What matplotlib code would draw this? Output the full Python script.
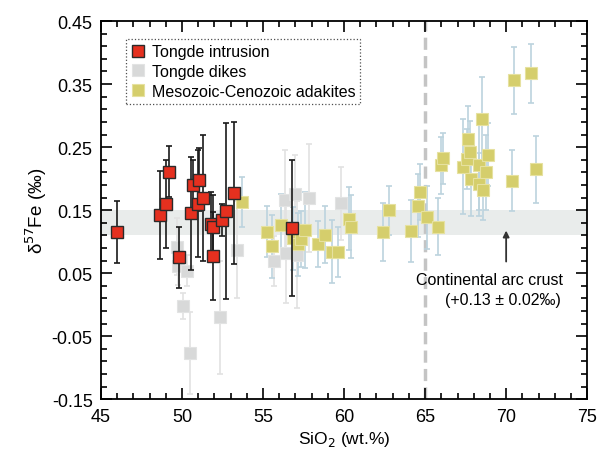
import matplotlib.pyplot as plt
from matplotlib.ticker import FixedLocator, MultipleLocator
import numpy as np

plt.rcParams['font.family'] = ['Liberation Sans', 'DejaVu Sans']

# Tongde intrusion
intr_x = [45.98, 48.64, 49.01, 49.22, 49.83, 50.56, 50.70, 51.00, 51.07, 51.27,
          51.79, 51.90, 51.90, 52.47, 52.70, 53.19, 56.79]
intr_y = [0.115, 0.142, 0.160, 0.211, 0.075, 0.145, 0.190, 0.160, 0.198, 0.170,
          0.128, 0.124, 0.077, 0.134, 0.149, 0.177, 0.122]
intr_e = [0.049, 0.070, 0.070, 0.040, 0.048, 0.090, 0.040, 0.085, 0.050, 0.100,
          0.050, 0.050, 0.070, 0.025, 0.140, 0.113, 0.108]

# Tongde dikes
dike_x = [49.71, 49.77, 50.28, 50.08, 50.49, 52.35, 53.37, 55.70, 56.36, 56.42,
          56.98, 57.08, 57.84, 59.79]
dike_y = [0.092, 0.062, 0.054, -0.002, -0.077, -0.020, 0.087, 0.069, 0.166, 0.082,
          0.175, 0.079, 0.169, 0.161]
dike_e = [0.045, 0.030, 0.025, 0.020, 0.065, 0.090, 0.077, 0.040, 0.080, 0.080,
          0.063, 0.085, 0.086, 0.058]

# Mesozoic-Cenozoic adakites
adak_x = [53.72, 55.27, 55.54, 56.11, 56.87, 57.18, 57.32, 57.59, 58.41, 58.83,
          59.24, 59.65, 60.33, 60.43, 62.43, 62.80, 64.14, 64.55, 64.69, 65.10,
          65.82, 65.99, 66.13, 67.36, 67.57, 67.67, 67.78, 67.81, 68.33, 68.35,
          68.50, 68.60, 68.77, 68.91, 70.39, 70.49, 71.52, 71.85]
adak_y = [0.163, 0.116, 0.093, 0.126, 0.105, 0.096, 0.104, 0.118, 0.096, 0.111,
          0.084, 0.084, 0.136, 0.124, 0.115, 0.150, 0.117, 0.157, 0.179, 0.139,
          0.124, 0.221, 0.232, 0.219, 0.231, 0.263, 0.242, 0.200, 0.191, 0.221,
          0.294, 0.182, 0.210, 0.238, 0.197, 0.356, 0.367, 0.215]
adak_e = [0.040, 0.040, 0.050, 0.050, 0.050, 0.050, 0.045, 0.060, 0.037, 0.045,
          0.050, 0.040, 0.050, 0.050, 0.046, 0.039, 0.049, 0.050, 0.045, 0.050,
          0.045, 0.045, 0.040, 0.075, 0.048, 0.052, 0.050, 0.060, 0.050, 0.070,
          0.067, 0.048, 0.060, 0.050, 0.048, 0.053, 0.047, 0.053]

fig = plt.figure(figsize=(6.01, 4.6), dpi=100)
ax = fig.add_axes([0.168, 0.130, 0.809, 0.822])

# continental arc crust band
ax.axhspan(0.11, 0.15, color='#e9eceb', zorder=0, lw=0)
ax.axvline(65, color='#c4c4c4', lw=2.5, dashes=(3.5, 1.8), zorder=1)

ax.errorbar(dike_x, dike_y, yerr=dike_e, fmt='none', ecolor='#e2e2e2',
            elinewidth=1.2, capsize=2, capthick=1.2, zorder=2)
ax.errorbar(adak_x, adak_y, yerr=adak_e, fmt='none', ecolor='#bcd3de',
            elinewidth=1.2, capsize=2, capthick=1.2, zorder=2)
ax.errorbar(intr_x, intr_y, yerr=intr_e, fmt='none', ecolor='#1a1a1a',
            elinewidth=1.2, capsize=2, capthick=1.2, zorder=4)

ax.plot(dike_x, dike_y, 's', ms=9, mfc='#d8d9d9', mec='#e2e3e3', mew=0.8,
        zorder=3, label='Tongde dikes')
ax.plot(adak_x, adak_y, 's', ms=9, mfc='#d5ce6c', mec='#e6e1a0', mew=0.8,
        zorder=3, label='Mesozoic-Cenozoic adakites')
ax.plot(intr_x, intr_y, 's', ms=8.5, mfc='#e5301f', mec='#2a2a2a', mew=1.0,
        zorder=5, label='Tongde intrusion')

handles, labels = ax.get_legend_handles_labels()
order = [2, 0, 1]
leg = ax.legend([handles[i] for i in order], [labels[i] for i in order],
                loc='upper left', bbox_to_anchor=(0.045, 0.96), fontsize=11.5,
                frameon=True, fancybox=False, handlelength=0.9,
                handletextpad=0.4, borderpad=0.3, labelspacing=0.3,
                markerscale=0.95, borderaxespad=0.2)
leg.get_frame().set_edgecolor('#222222')
leg.get_frame().set_linestyle(':')
leg.get_frame().set_linewidth(0.9)

ax.annotate('', xy=(70, 0.122), xytext=(70, 0.064),
            arrowprops=dict(arrowstyle='-|>', color='#333333', lw=1.3,
                            mutation_scale=9))
ax.text(69.0, 0.040, 'Continental arc crust', ha='center', va='center',
        fontsize=11.5)
ax.text(69.8, 0.008, '(+0.13 \u00b1 0.02\u2030)', ha='center', va='center',
        fontsize=11.5)

ax.set_xlim(45, 75)
ax.set_ylim(-0.15, 0.45)
ax.xaxis.set_major_locator(MultipleLocator(5))
ax.xaxis.set_minor_locator(MultipleLocator(1))
ax.yaxis.set_major_locator(FixedLocator(np.round(np.arange(-0.15, 0.46, 0.1), 2)))
ax.yaxis.set_minor_locator(FixedLocator(np.round(np.arange(-0.15, 0.46, 0.02), 2)))
ax.set_yticklabels(['-0.15', '-0.05', '0.05', '0.15', '0.25', '0.35', '0.45'])
ax.tick_params(which='both', direction='in', top=True, right=True,
               labelsize=13, width=1.2)
ax.tick_params(which='major', length=8, pad=6)
ax.tick_params(which='minor', length=4)
for s in ax.spines.values():
    s.set_linewidth(1.3)

ax.set_xlabel('SiO$_2$ (wt.%)', fontsize=12.5, labelpad=3)
ax.set_ylabel('\u03b4$^{57}$Fe (\u2030)', fontsize=13.5, labelpad=2)

fig.savefig('out.png', dpi=100)
